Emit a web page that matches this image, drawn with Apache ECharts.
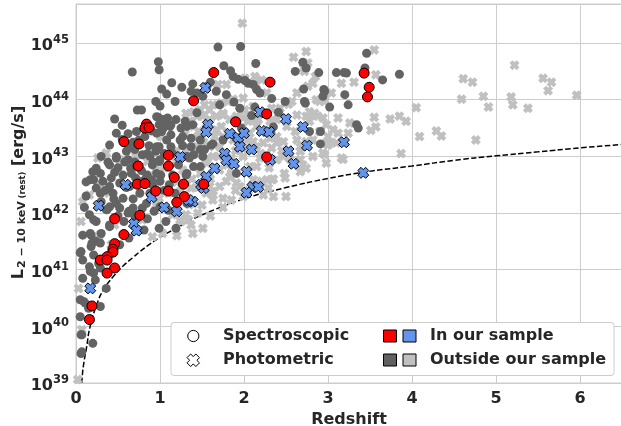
<!DOCTYPE html>
<html>
<head>
<meta charset="utf-8">
<script src="https://cdn.jsdelivr.net/npm/echarts@6/dist/echarts.min.js"></script>
<style>
  html, body { margin: 0; padding: 0; background: #ffffff; }
  #chart { width: 621px; height: 426px; }
</style>
</head>
<body>
<div id="chart"></div>
<script>
// Each entry: [redshift z, log10 of L(2-10 keV, rest) in erg/s]

// Spectroscopic redshifts, sources in our sample
const specInSample = [
  [1.40,43.98],[0.84,43.57],[0.82,43.50],[0.87,43.51],[0.57,43.26],[0.75,43.22],[1.10,43.02],
  [0.74,42.83],[1.10,42.83],[1.17,42.63],[0.73,42.51],[0.82,42.52],[1.28,42.51],[0.95,42.39],
  [1.10,42.39],[1.29,42.29],[1.20,42.19],[1.52,42.51],[0.76,41.96],[0.46,41.90],[1.64,44.48],
  [2.31,44.31],[2.27,43.75],[1.90,43.61],[2.27,42.99],[3.43,44.47],[3.49,44.22],[3.47,44.05],
  [0.57,41.62],[0.46,41.46],[0.44,41.36],[0.44,41.31],[0.37,41.23],[0.29,41.17],[0.37,41.17],
  [0.46,41.03],[0.37,40.94],[0.19,40.36],[0.16,40.12]
];

// Photometric redshifts, sources in our sample
const photInSample = [
  [1.54,44.21],[2.19,43.78],[2.50,43.66],[2.70,43.52],[1.57,43.56],[1.55,43.43],[1.83,43.40],
  [1.93,43.33],[2.00,43.41],[2.21,43.45],[2.30,43.43],[1.95,43.17],[2.09,43.12],[2.53,43.09],
  [2.75,43.19],[3.19,43.25],[1.77,43.05],[1.79,42.93],[1.88,42.87],[2.59,42.87],[2.31,42.94],
  [1.65,42.79],[2.03,42.73],[1.55,42.64],[1.52,42.44],[2.10,42.46],[2.17,42.46],[2.03,42.36],
  [3.42,42.71],[1.39,42.20],[1.34,42.23],[1.24,42.99],[0.59,42.50],[0.90,42.28],[1.05,42.10],
  [1.20,42.03],[0.27,42.13],[0.69,41.81],[0.72,41.69],[0.17,40.67],[1.49,42.50]
];

// Spectroscopic redshifts, sources outside our sample
const specOutside = [
  [0.98,44.67],[0.99,44.53],[0.67,44.49],[1.14,44.30],[1.02,44.19],[1.26,44.22],[1.39,44.28],
  [1.08,44.10],[1.37,44.15],[0.95,43.97],[1.18,43.97],[1.00,43.89],[0.73,43.82],[0.78,43.82],
  [0.46,43.66],[0.98,43.69],[1.09,43.68],[1.07,43.62],[1.19,43.65],[1.30,43.62],[0.99,43.56],
  [1.04,43.50],[1.13,43.56],[1.25,43.50],[1.39,43.56],[0.72,43.44],[0.48,43.41],[1.02,43.44],
  [1.13,43.38],[1.27,43.35],[1.37,43.32],[0.75,43.29],[0.63,43.16],[0.87,43.19],[0.99,43.17],
  [1.13,43.17],[1.27,43.19],[1.37,43.17],
  [1.69,44.93],[1.96,44.94],[1.76,44.60],[1.84,44.51],[2.14,44.64],[1.87,44.41],[1.93,44.36],
  [2.01,44.34],[2.05,44.29],[2.11,44.27],[2.15,44.18],[2.19,44.12],[1.60,44.31],[1.56,44.24],
  [1.67,44.15],[1.44,44.12],[1.79,44.09],[1.88,43.96],[2.33,44.02],[2.49,43.97],[2.61,44.50],
  [2.41,43.78],[2.09,43.72],[1.97,43.50],[2.35,43.52],[1.75,43.29],[1.51,44.06],[1.71,43.91],
  [1.95,43.85],[2.13,43.87],[2.32,43.45],[1.63,43.22],[1.91,42.70],[2.72,43.97],[2.78,43.44],
  [2.70,44.66],[2.74,44.56],[2.89,44.48],[3.10,44.48],[3.19,44.48],[3.22,44.47],[3.46,44.82],
  [3.65,44.35],[3.85,44.45],[3.44,44.56],[2.71,44.19],[2.95,44.18],[3.02,43.87],[3.24,43.91],
  [3.20,44.09],[3.34,43.56],[3.36,43.50],[2.91,43.22],[2.96,44.15],[2.94,44.06],[2.73,43.94],
  [2.91,43.44],
  [0.24,42.79],[0.20,42.73],[0.24,42.44],[0.42,42.62],[0.40,42.85],[0.48,42.97],[0.60,43.09],
  [0.65,42.79],[0.56,42.67],[0.79,43.03],[0.95,43.09],[0.91,42.85],[1.01,42.67],[0.85,42.67],
  [0.44,42.35],[0.56,42.26],[0.48,42.17],[0.36,42.06],[0.24,41.85],[0.16,41.97],[0.06,41.32],
  [0.18,41.61],[0.24,41.50],[0.30,41.64],[0.40,41.79],[0.57,41.85],[0.63,42.03],[0.79,42.09],
  [0.93,42.03],[1.07,41.85],[0.99,41.73],[0.81,41.70],[0.63,41.56],[0.52,41.44],[0.18,41.41],
  [0.08,41.61],[1.19,41.73],[1.11,42.50],[1.15,42.67],[0.99,42.91],[0.71,42.62],[0.79,42.56],
  [0.91,42.50],[1.31,42.67],[1.35,42.97],
  [0.05,41.30],[0.19,41.47],[0.08,41.17],[0.16,41.05],[0.17,40.97],[0.23,40.82],[0.29,41.03],
  [0.08,40.85],[0.05,40.47],[0.09,40.44],[0.15,40.32],[0.29,40.35],[0.36,40.67],[0.05,40.17],
  [0.06,39.85],[0.06,39.52],[0.07,39.55],[0.20,39.70],[0.29,41.47],[0.40,41.76],[0.62,42.00],
  [0.17,41.64],[0.37,42.06],[0.21,41.88],[0.21,41.26],[0.21,40.94],[0.27,41.11],[0.11,40.41],
  [0.07,39.85],
  [0.46,42.72],[0.32,42.56],[0.29,42.35],[0.40,42.11],[0.52,42.09],[0.68,42.09],[0.62,42.94],
  [0.70,43.12],[0.96,43.70],[1.04,43.65],[1.12,43.53],[0.96,43.41],[1.08,43.29],[1.24,43.29],
  [1.32,43.53],[1.44,43.77],[1.48,43.29],[0.96,43.17],[0.88,43.00],[1.00,42.94],[1.32,43.00],
  [1.40,42.82],[0.96,42.70],[0.84,42.64],[1.00,42.56],[1.48,42.82],[1.51,43.00],[1.32,42.70],
  [0.66,42.70],[0.64,42.47],[0.76,42.35],[0.90,42.59],[0.52,42.53],[0.40,42.47],[0.29,42.70],
  [0.17,42.59],[0.84,42.17],[1.00,42.11],[1.32,42.17],[1.61,43.20],[1.40,43.03],[1.48,43.12],
  [1.53,43.12],[0.48,43.00],[0.38,42.90],[0.21,42.59],
  [0.55,43.30],[0.62,43.40],[0.68,43.25],[0.82,43.35],[0.90,43.45],[0.85,43.05],[0.70,42.90],
  [0.78,42.75],[0.60,42.45],[0.68,42.25],[0.88,42.35],[1.05,42.40],[1.18,42.35],[1.22,42.85],
  [1.05,43.05],[0.92,42.90],[1.15,43.05],[0.58,42.90],[0.50,42.80],[0.35,42.40],[0.30,42.20],
  [0.45,42.25],[0.50,41.95],[0.70,41.95],[0.85,41.90],[1.10,42.05],[0.55,43.55],[0.40,43.20],
  [0.30,43.00],[0.12,42.30],[0.12,42.55],[0.10,42.10]
];

// Photometric redshifts, sources outside our sample
const photOutside = [
  [5.22,44.61],[4.61,44.37],[4.72,44.31],[5.56,44.38],[5.66,44.31],[5.62,44.16],[4.59,44.01],
  [4.85,44.06],[4.91,43.87],[5.18,44.05],[5.20,43.91],[5.38,43.85],[5.96,44.08],[4.05,43.86],
  [3.85,43.71],[3.93,43.62],[4.09,43.35],[4.29,43.45],[4.35,43.36],[4.76,43.29],[3.87,43.05],
  [2.74,44.85],[3.55,44.88],[2.71,44.56],[2.72,44.50],[2.85,44.41],[2.82,44.29],[2.76,44.24],
  [3.16,44.29],[3.31,44.31],[3.57,44.44],[3.04,44.12],[2.86,44.00],[2.90,43.97],[2.78,43.79],
  [2.82,43.73],[2.74,43.71],[2.88,43.71],[2.94,43.68],[2.78,43.62],[3.12,43.68],[3.26,43.59],
  [3.55,43.69],[3.74,43.66],[3.51,43.46],[3.57,43.52],[3.12,43.41],[2.98,43.56],[3.00,43.20],
  [2.82,43.29],[3.04,43.24],[3.16,42.97],[2.96,43.03],[2.98,42.88],[2.70,42.85],[2.74,42.79],
  [1.98,45.35],[2.59,44.75],[3.18,42.95],[2.49,42.62],[2.35,42.60],[2.19,42.50],[2.29,42.44],
  [2.35,42.29],[2.50,42.29],[1.99,42.29],[1.85,42.23],[1.63,42.23],[1.50,42.14],[1.51,41.73],
  [2.48,42.70],[2.33,42.59],[2.23,42.32],[2.21,42.56],[2.67,42.73],[1.75,42.26],[1.63,42.32],
  [1.71,42.47],[1.91,42.53],[1.83,42.64],[1.39,41.64],[1.34,41.88],[1.24,41.88],[0.03,40.67],
  [0.42,41.44],[0.02,39.06],[0.07,39.94],
  [2.76,44.65],[2.63,44.12],[2.57,43.97],[2.53,43.92],[2.43,43.85],[2.33,43.85],[2.27,44.12],
  [2.13,44.29],[2.21,44.35],[2.13,44.41],[2.01,44.38],[1.79,44.27],[1.69,44.27],[1.99,44.03],
  [1.87,44.01],[1.81,43.97],[1.73,43.94],[1.63,43.91],[1.53,43.91],[1.48,43.82],[2.01,43.82],
  [2.11,43.88],[1.40,43.79],[1.44,43.71],[1.51,43.71],[1.59,43.65],[1.67,43.71],[1.75,43.73],
  [1.83,43.65],[1.91,43.71],[2.05,43.62],[2.17,43.65],[2.31,43.62],[2.39,43.65],[2.51,43.53],
  [2.61,43.44],[1.40,43.53],[1.46,43.44],[1.67,43.47],[1.73,43.53],[1.75,43.35],[1.87,43.29],
  [2.03,43.29],[2.07,43.41],[2.15,43.53],[2.31,43.32],[2.39,43.35],[2.47,43.26],[2.63,43.29],
  [2.74,43.26],[1.44,43.17],[1.59,43.17],[2.15,43.17],[2.33,43.15],[2.67,43.17],
  [1.59,43.82],[1.75,43.76],[1.99,43.68],[2.11,43.65],[2.63,43.73],[2.84,43.76],[2.96,43.97],
  [3.06,43.47],[3.00,43.35],[3.10,43.24],[3.24,43.41],[2.90,43.44],[2.39,43.24],[2.23,43.24],
  [2.11,43.26],[1.99,43.00],[1.85,42.97],[1.71,43.17],[1.63,43.00],[1.56,42.88],[1.71,42.76],
  [1.85,42.70],[2.07,42.82],[2.15,42.82],[2.19,42.97],[2.39,42.94],[2.47,43.00],[2.67,42.94],
  [2.67,43.09],[2.82,43.00],[2.94,43.06],[2.98,43.24],[1.59,42.47],[1.79,42.56],[1.95,42.47],
  [1.63,42.38],[2.11,42.59],[2.27,42.59],
  [1.31,43.09],[1.19,42.91],[1.27,42.76],[0.95,42.76],[0.85,42.91],[0.71,43.00],[0.52,42.94],
  [0.28,42.50],[0.34,42.35],[0.99,42.26],[1.15,41.97],[1.31,41.97],[1.25,41.85],
  [1.03,41.64],[0.91,41.58],[1.37,41.79],[0.95,42.14],[0.79,41.88],[0.46,41.79],[0.08,42.20],
  [0.16,42.32],[0.06,41.85],[0.28,41.61],[1.37,42.44],[0.36,43.06],[0.26,42.97],
  [1.45,43.35],[1.52,43.25],[1.42,43.05],[1.55,42.95],[1.48,42.70],[1.60,42.60],[1.38,42.60],
  [1.45,42.45],[1.55,42.35],[1.25,42.40],[1.20,42.55],[1.10,42.35],[1.05,42.80],[1.20,43.10],
  [1.30,43.40],[1.55,43.50],[1.65,43.35],[1.70,43.00],[1.80,42.85],[1.90,43.10],[2.00,43.15],
  [2.20,43.05],[2.30,42.80],[2.45,43.10],[2.55,42.95],[1.90,42.40],[2.05,42.40],[1.75,42.10],
  [1.35,42.15],[1.45,42.00],[1.60,41.95],[1.20,41.60],[1.31,43.76],[1.35,43.62],[1.01,43.35]
];

// Survey flux limit expressed as luminosity versus redshift
const fluxLimit = [
  [0.068,39.00],[0.087,39.29],[0.127,39.64],[0.167,39.99],[0.246,40.38],[0.325,40.64],
  [0.444,40.88],[0.563,41.07],[0.682,41.22],[0.761,41.32],[0.85,41.42],[1.00,41.57],
  [1.25,41.78],[1.475,41.95],[2.00,42.25],[2.50,42.45],[3.00,42.61],[3.42,42.72],
  [4.00,42.83],[4.50,42.93],[5.00,43.01],[5.50,43.08],[6.00,43.15],[6.50,43.21]
];

const xTicks = [0, 1, 2, 3, 4, 5, 6];
const yDecades = [39, 40, 41, 42, 43, 44, 45];

const FONT = 'DejaVu Sans';
const INK = '#262626';
// filled "X" outline in a 12x12 box
const X_OUTLINE = [[0,3.5],[3.5,0],[6,2.5],[8.5,0],[12,3.5],[9.5,6],[12,8.5],[8.5,12],[6,9.5],[3.5,12],[0,8.5],[2.5,6]];
const X_MARK = 'path://M' + X_OUTLINE.map(p => p[0] + ',' + p[1]).join('L') + 'Z';

const toLum = arr => arr.map(([z, lg]) => [z, Math.pow(10, lg)]);

const chart = echarts.init(document.getElementById('chart'), null, { renderer: 'canvas' });

const overlay = [];
// legend frame
overlay.push({
  type: 'rect', shape: { x: 171, y: 322.5, width: 443, height: 53, r: 3 },
  style: { fill: '#ffffff', stroke: '#cccccc', lineWidth: 1 }, z: 100
});
// marker-shape entries
overlay.push({
  type: 'circle', shape: { cx: 193.3, cy: 336, r: 5.6 },
  style: { fill: '#ffffff', stroke: '#000000', lineWidth: 1 }, z: 101
});
const xs = 12.5 / 12;
overlay.push({
  type: 'polygon',
  shape: { points: X_OUTLINE.map(p => [187 + p[0] * xs, 354 + p[1] * xs]) },
  style: { fill: '#ffffff', stroke: '#000000', lineWidth: 1 }, z: 101
});
const legendText = (t, x, y) => ({
  type: 'text', x: x, y: y, z: 101,
  style: { text: t, font: 'bold 16px "' + FONT + '"', fill: INK, align: 'left', verticalAlign: 'middle' }
});
overlay.push(legendText('Spectroscopic', 223, 335.5));
overlay.push(legendText('Photometric', 223, 359.5));
overlay.push(legendText('In our sample', 430, 335.5));
overlay.push(legendText('Outside our sample', 430, 359.5));
// colour swatches
const swatch = (x, y, c) => ({
  type: 'rect', shape: { x: x, y: y, width: 13, height: 12 }, z: 101,
  style: { fill: c, stroke: '#000000', lineWidth: 1 }
});
overlay.push(swatch(383.5, 330, '#ff0000'));
overlay.push(swatch(403, 330, '#6495ed'));
overlay.push(swatch(383.5, 354, '#606060'));
overlay.push(swatch(403, 354, '#c0c0c0'));

// y-axis title with subscripts
overlay.push({
  type: 'text', x: 19, y: 192.5, rotation: Math.PI / 2, z: 50,
  style: {
    text: '{L|L}{s|2 − 10 keV}{r| (rest)}{n| [erg/s]}',
    align: 'center', verticalAlign: 'middle',
    rich: {
      L: { font: 'bold 16px "' + FONT + '"', fill: INK, padding: [0, 1, 0, 0] },
      s: { font: 'bold 11px "' + FONT + '"', fill: INK, padding: [7, 0, 0, 0] },
      r: { font: 'bold 8.5px "' + FONT + '"', fill: INK, padding: [7, 0, 0, 0] },
      n: { font: 'bold 16px "' + FONT + '"', fill: INK }
    }
  }
});

const option = {
  animation: false,
  backgroundColor: '#ffffff',
  grid: {
    left: 76, top: 4, right: -1, bottom: 43,
    containLabel: false, outerBoundsMode: 'none',
    show: true, borderColor: '#cccccc', borderWidth: 1, backgroundColor: 'transparent'
  },
  xAxis: {
    type: 'value', min: 0, max: 6.5, interval: 1,
    name: 'Redshift', nameLocation: 'middle', nameGap: 24,
    nameTextStyle: { fontFamily: FONT, fontWeight: 'bold', fontSize: 16, color: INK },
    axisLine: { show: false }, axisTick: { show: false },
    axisLabel: {
      margin: 7.5, fontFamily: FONT, fontWeight: 'bold', fontSize: 16, color: INK,
      formatter: v => (xTicks.indexOf(v) >= 0 ? String(v) : '')
    },
    splitLine: { show: true, lineStyle: { color: '#cccccc', width: 1 } }
  },
  yAxis: {
    type: 'log', logBase: 10, min: 1e39, max: 4.9e45, interval: 1,
    axisLine: { show: false }, axisTick: { show: false },
    axisLabel: {
      margin: 7,
      padding: [6, 0, 0, 0],
      formatter: v => {
        const e = Math.log10(v);
        const r = Math.round(e);
        if (Math.abs(e - r) > 1e-6 || yDecades.indexOf(r) < 0) return '';
        return '{b|10}{e|' + r + '}';
      },
      rich: {
        b: { fontFamily: FONT, fontWeight: 'bold', fontSize: 16, color: INK },
        e: { fontFamily: FONT, fontWeight: 'bold', fontSize: 11.5, color: INK, padding: [0, 0, 12, 0] }
      }
    },
    splitLine: { show: true, lineStyle: { color: '#cccccc', width: 1 } }
  },
  graphic: overlay,
  series: [
    {
      type: 'line', data: toLum(fluxLimit), smooth: true, showSymbol: false, z: 1,
      lineStyle: { color: '#000000', width: 1.5, type: [5.5, 2.4] }, silent: true
    },
    {
      type: 'scatter', data: toLum(photOutside), symbol: X_MARK, symbolSize: 10, z: 2,
      itemStyle: { color: '#c0c0c0', opacity: 1 }, silent: true
    },
    {
      type: 'scatter', data: toLum(specOutside), symbol: 'circle', symbolSize: 9, z: 3,
      itemStyle: { color: '#636363', opacity: 1 }, silent: true
    },
    {
      type: 'scatter', data: toLum(photInSample), symbol: X_MARK, symbolSize: 11, z: 4,
      itemStyle: { color: '#6495ed', borderColor: '#000000', borderWidth: 1, opacity: 1 }, silent: true
    },
    {
      type: 'scatter', data: toLum(specInSample), symbol: 'circle', symbolSize: 10, z: 5,
      itemStyle: { color: '#ff0000', borderColor: '#000000', borderWidth: 1, opacity: 1 }, silent: true
    }
  ]
};

chart.setOption(option);
</script>
</body>
</html>
